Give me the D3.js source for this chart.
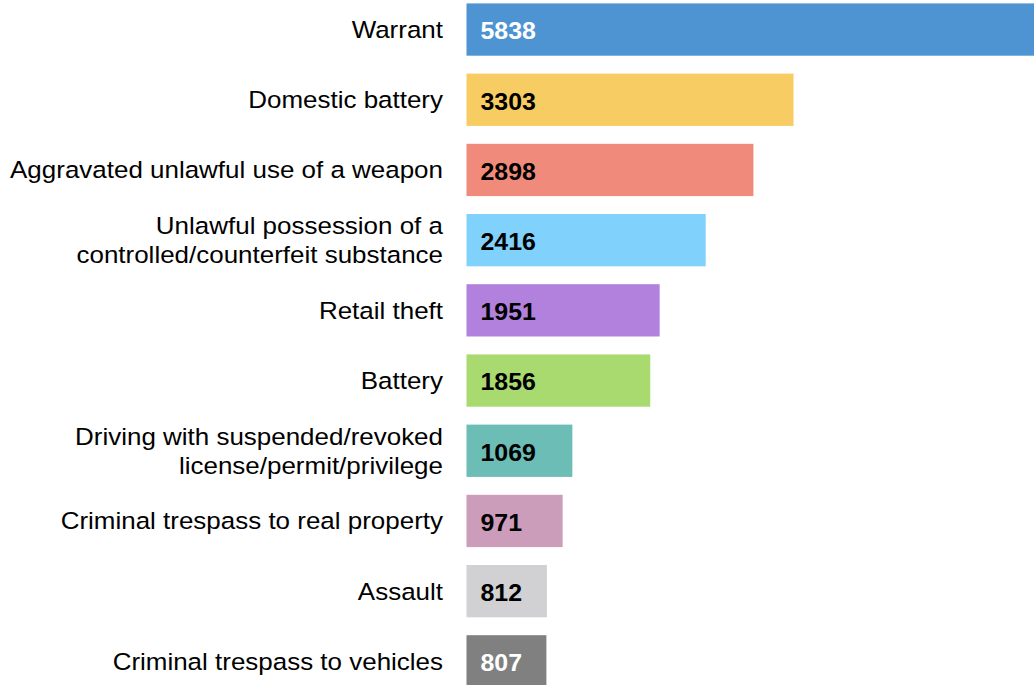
<!DOCTYPE html>
<html>
<head>
<meta charset="utf-8">
<script src="https://cdn.jsdelivr.net/npm/d3@7"></script>
<style>
  html, body { margin: 0; padding: 0; background: #fff; overflow: hidden; }
  svg { display: block; font-family: "Liberation Sans", Arial, sans-serif; }
</style>
</head>
<body>
<svg></svg>
<script>
var width  = 1034,
    height = 685;

// data
var categories = [
  ["Warrant"],
  ["Domestic battery"],
  ["Aggravated unlawful use of a weapon"],
  ["Unlawful possession of a", "controlled/counterfeit substance"],
  ["Retail theft"],
  ["Battery"],
  ["Driving with suspended/revoked", "license/permit/privilege"],
  ["Criminal trespass to real property"],
  ["Assault"],
  ["Criminal trespass to vehicles"]
];
var counts = [5838, 3303, 2898, 2416, 1951, 1856, 1069, 971, 812, 807];
var colors = ["#4e94d3", "#f7cc62", "#f08a7a", "#80d1fb", "#b281de",
              "#a9da70", "#6bbdb5", "#cc9dba", "#d1d0d2", "#808080"];
var valueColors = ["#fff", "#000", "#000", "#000", "#000",
                   "#000", "#000", "#000", "#000", "#fff"];

var svg = d3.select("svg")
  .attr("width", width)
  .attr("height", height);

var x = d3.scaleLinear()
  .domain([0, 5838])
  .range([466.5, 1044.5]);

var y = d3.scaleBand()
  .domain(d3.range(counts.length))
  .range([3.4, 687.5])
  .paddingInner(0.255)
  .paddingOuter(0);

// the source picture is a bit stretched sideways, text included
var labelStretch = 1.115,
    valueStretch = 1.06;

var rows = svg.selectAll("g.row")
  .data(counts)
  .enter()
    .append("g")
    .attr("class", "row");

rows.append("rect")
  .attr("x", x(0))
  .attr("y", function(d, i) { return y(i); })
  .attr("width", function(d) { return x(d) - x(0); })
  .attr("height", y.bandwidth())
  .attr("fill", function(d, i) { return colors[i]; });

rows.append("text")
  .attr("transform", function(d, i) {
    return "translate(" + (x(0) + 14) + "," + (y(i) + y.bandwidth() / 2) + ") scale(" + valueStretch + ",1)";
  })
  .attr("dy", "0.42em")
  .attr("font-size", 23.5)
  .attr("font-weight", "bold")
  .attr("fill", function(d, i) { return valueColors[i]; })
  .text(function(d) { return d; });

var lineH = 29;
var labels = rows.append("text")
  .attr("text-anchor", "end")
  .attr("font-size", 23.3)
  .attr("fill", "#000")
  .attr("transform", function(d, i) {
    return "translate(443," + (y(i) + y.bandwidth() / 2) + ") scale(" + labelStretch + ",1)";
  });

labels.each(function(d, i) {
  var lines = categories[i];
  var first = -(lines.length - 1) * lineH / 2;
  d3.select(this).selectAll("tspan")
    .data(lines)
    .enter()
      .append("tspan")
      .attr("x", 0)
      .attr("y", function(l, j) { return first + j * lineH; })
      .attr("dy", "0.36em")
      .text(function(l) { return l; });
});
</script>
</body>
</html>
